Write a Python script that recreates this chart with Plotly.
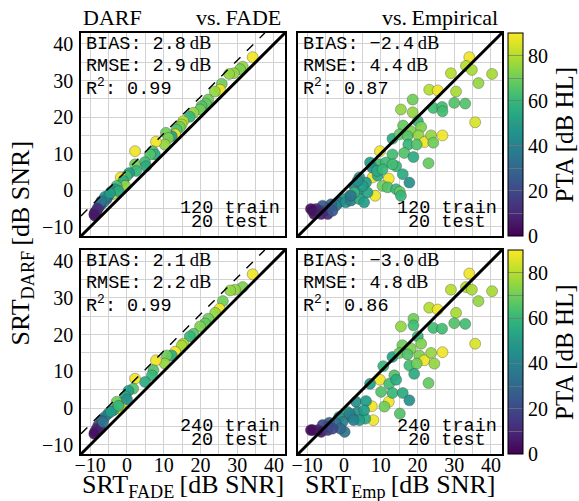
import plotly.graph_objects as go

# ---------------- data ----------------
AX_RANGE = [-12.5, 43.0]
PTA_RANGE = [0, 90]
TICKS = [-10, 0, 10, 20, 30, 40]
TICK_LABELS = ["\u221210", "0", "10", "20", "30", "40"]
CB_TICKS = [0, 10, 20, 30, 40, 50, 60, 70, 80, 90]
CB_LABELS = ["0", "", "20", "", "40", "", "60", "", "80", ""]
DASH_OFFSET = [5.5, 5.5]  # dashed reference line offset (left panels)

# top-left: DARF vs FADE, 120 train
fade120_x = [34.2, 31.5, 30.8, 29.1, 27.8, 25.8, 25.3, 23.9, 22.1, 21.5, 20.3, 19.9, 18.1, 17.1, 15.3,
             14.9, 14.4, 13.5, 13.1, 12.2, 10.6, 11.3, 10.3, 7.9, 7.0, 7.6, 6.3, 2.2, 4.9, 5.2,
             2.2, 2.5, 0.6, -0.1, -1.7, -1.0, -0.5, -2.8, -3.3, -4.2, -3.7, -5.1, -5.5, -2.3, -6.4,
             -7.3, -7.8, -8.2, -8.7, -8.7, -6.0, -4.6, -7.0, -8.0, -8.9]
fade120_y = [36.4, 33.8, 33.1, 32.0, 31.8, 29.1, 27.5, 27.0, 24.8, 23.7, 23.0, 22.1, 21.2, 20.1, 18.9,
             18.0, 17.3, 16.6, 15.3, 14.8, 15.7, 14.3, 12.5, 13.3, 10.7, 9.8, 9.8, 10.7, 7.7, 6.6,
             7.1, 5.3, 4.7, 3.9, 3.5, 2.6, 1.2, 1.2, 0.3, -0.3, -1.0, -1.5, -2.4, -0.2, -3.3,
             -4.2, -4.7, -5.6, -6.0, -7.0, -1.8, -0.8, -3.0, -5.0, -6.6]
fade120_pta = [88, 75, 72, 75, 75, 70, 88, 75, 70, 68, 65, 70, 75, 60, 80,
               78, 70, 65, 88, 50, 70, 72, 75, 88, 65, 55, 65, 88, 62, 55,
               70, 60, 50, 62, 88, 55, 75, 62, 50, 45, 80, 40, 30, 55, 40,
               20, 15, 10, 5, 8, 45, 50, 35, 12, 6]

# top-right: DARF vs Empirical, 120 train
emp120_x = [34.1, 33.2, 34.8, 40.3, 29.1, 36.6, 23.2, 25.5, 30.5, 18.7, 30.0, 33.0, 15.5, 18.7, 24.3,
            26.7, 26.8, 35.7, 20.1, 16.1, 18.2, 21.0, 13.2, 15.1, 17.3, 20.3, 21.9, 23.7, 26.8, 24.3,
            17.5, 19.8, 9.8, 13.2, 16.4, 18.9, 23.0, 7.1, 9.6, 11.4, 14.2, 12.2, 7.8, 4.2, 6.0,
            9.2, 16.0, 17.8, 10.5, 11.9, 14.2, 15.2, 15.5, 8.5, 6.4, 3.7, 2.8, 1.5, -0.4, -1.3,
            -2.2, -3.5, -4.4, -5.3, -5.8, -6.7, -7.6, -8.5, -9.0, -8.1, -6.2, -4.4, -3.1, 0.5, 1.9,
            4.2, 5.5, 2.8, 5.1, 3.7, 7.7, 9.0, 13.2, 10.5, 1.9]
emp120_y = [36.4, 34.0, 32.9, 31.8, 32.0, 29.3, 27.5, 27.3, 27.0, 24.8, 23.9, 23.7, 22.1, 21.3, 22.5,
            22.8, 21.6, 18.6, 18.9, 17.7, 16.2, 17.3, 14.1, 15.3, 14.8, 15.0, 13.2, 15.0, 15.0, 13.0,
            12.5, 12.5, 10.7, 9.8, 10.2, 9.1, 7.4, 7.6, 7.1, 7.6, 6.6, 3.2, 3.5, 3.5, 2.1,
            4.0, 4.4, 2.1, 1.2, 0.8, 0.3, -0.4, -1.5, -1.5, -0.6, -0.6, 1.2, -1.5, -2.4, -3.3,
            -4.2, -3.8, -5.1, -5.6, -4.2, -5.6, -5.1, -5.6, -5.1, -6.5, -6.5, -6.5, -5.6, -3.3, -2.8,
            -2.4, -3.3, -0.6, 1.2, 2.6, 6.2, 5.3, 7.1, 5.7, -1.5]
emp120_pta = [88, 80, 78, 78, 80, 75, 80, 88, 78, 70, 65, 65, 75, 75, 62,
              62, 62, 85, 60, 68, 72, 72, 55, 68, 65, 75, 88, 75, 88, 70,
              60, 65, 88, 62, 65, 55, 68, 50, 62, 62, 60, 88, 88, 45, 50,
              55, 55, 45, 70, 65, 60, 68, 60, 88, 52, 45, 40, 55, 50, 35,
              40, 30, 25, 20, 25, 15, 10, 5, 3, 5, 8, 10, 25, 45, 40,
              55, 50, 60, 50, 45, 45, 55, 62, 60, 35]

# bottom-left: DARF vs FADE, 240 train
fade240_x = [34.2, 31.5, 29.4, 28.1, 26.1, 25.2, 24.0, 22.1, 21.3, 19.9, 18.1, 17.1, 15.3, 14.9, 13.1,
             12.2, 10.8, 10.3, 7.9, 7.2, 6.8, 4.9, 2.2, 1.7, 0.4, -0.5, -1.4, -2.8, -1.9, -3.7,
             -5.1, -6.0, -6.9, -7.8, -8.2, -8.7, -7.3, -4.4, -2.3, 0.0, -6.5, -8.9]
fade240_y = [36.4, 32.9, 32.2, 32.0, 29.1, 27.0, 25.9, 24.3, 23.0, 22.2, 20.2, 19.5, 17.5, 17.0, 15.3,
             14.3, 14.3, 12.1, 13.0, 10.3, 8.9, 7.1, 8.0, 5.3, 4.7, 3.2, 1.2, 1.7, -0.2, -0.6,
             -1.5, -2.4, -3.3, -4.7, -5.6, -6.5, -5.6, -1.0, 0.6, 2.4, -3.8, -7.0]
fade240_pta = [88, 72, 75, 75, 70, 88, 75, 70, 68, 72, 65, 60, 80, 78, 88,
               55, 70, 75, 88, 65, 60, 55, 88, 65, 50, 55, 88, 70, 85, 55,
               45, 40, 30, 20, 10, 5, 8, 50, 60, 45, 35, 4]

# bottom-right: DARF vs Empirical, 240 train
emp240_x = [34.1, 33.2, 34.8, 40.3, 29.1, 36.6, 23.2, 25.5, 30.5, 18.9, 30.0, 33.0, 15.5, 18.9, 24.3,
            26.7, 35.7, 20.1, 15.9, 18.2, 21.0, 13.2, 15.1, 17.3, 20.5, 21.9, 23.7, 26.8, 24.6, 17.8,
            19.8, 10.7, 9.8, 13.7, 19.1, 23.0, 7.1, 12.3, 14.2, 10.1, 12.2, 7.6, 13.2, 16.0, 17.8,
            3.3, 6.0, 11.0, 15.2, 8.0, 5.8, 1.0, 3.7, 1.9, -1.3, 4.2, -0.4, -2.2, -4.0, -4.4,
            -5.8, 0.2, -1.0, -7.1, -8.5, -9.0, -6.2, -4.4, -3.1, 5.5, 1.5, 2.6]
emp240_y = [36.6, 32.9, 32.2, 31.8, 32.2, 29.1, 27.3, 26.8, 25.9, 24.3, 23.1, 22.9, 22.2, 22.5, 21.8,
            21.6, 17.5, 19.5, 17.1, 16.2, 17.5, 13.9, 15.0, 14.6, 14.3, 13.0, 15.0, 15.2, 12.1, 11.6,
            12.1, 11.4, 7.7, 8.9, 9.3, 6.8, 6.6, 6.6, 7.7, 4.4, 1.7, 0.5, 4.1, 4.1, 2.1,
            1.7, 1.9, 0.4, -1.5, -3.3, -2.9, -1.1, -1.1, -2.4, -2.4, -3.3, -3.8, -4.2, -4.0, -5.1,
            -4.6, -6.5, -5.6, -6.0, -6.0, -6.0, -6.5, -6.0, -5.6, -0.6, -1.5, -3.3]
emp240_pta = [88, 80, 78, 78, 80, 75, 80, 88, 78, 70, 65, 62, 75, 62, 62,
              62, 85, 60, 70, 72, 72, 52, 68, 65, 72, 88, 75, 88, 75, 62,
              70, 60, 88, 65, 55, 68, 50, 62, 55, 65, 88, 88, 60, 55, 45,
              45, 50, 70, 65, 88, 55, 60, 45, 45, 45, 50, 40, 35, 30, 25,
              20, 35, 30, 10, 5, 3, 5, 15, 20, 50, 40, 40]

panel_x = [fade120_x, emp120_x, fade240_x, emp240_x]
panel_y = [fade120_y, emp120_y, fade240_y, emp240_y]
panel_c = [fade120_pta, emp120_pta, fade240_pta, emp240_pta]
bias_txt = ["2.8", "\u22122.4", "2.1", "\u22123.0"]
rmse_txt = ["2.9", "4.4", "2.2", "4.8"]
r2_txt = ["0.99", "0.87", "0.99", "0.86"]
train_txt = ["120", "120", "240", "240"]
test_txt = ["20", "20", "20", "20"]

# ---------------- layout geometry ----------------
W, H = 579, 501
ML, MR, MT, MB = 81, 77, 33, 47
PW = W - ML - MR
PH = H - MT - MB
SERIF = "Liberation Serif"
MONO = "Liberation Mono"

xdom = [[0, 204 / PW], [(298 - ML) / PW, 1]]
ydom = [[(H - MB - 236) / PH, 1], [0, 204 / PH]]

fig = go.Figure()

for i in range(4):
    r, c = divmod(i, 2)
    n = "" if i == 0 else str(i + 1)
    fig.add_trace(go.Scatter(
        x=panel_x[i], y=panel_y[i], mode="markers",
        xaxis="x" + n, yaxis="y" + n, showlegend=False,
        marker=dict(size=11, color=panel_c[i], coloraxis="coloraxis" if r == 0 else "coloraxis2",
                    opacity=0.92, line=dict(width=0.7, color="rgba(60,60,60,0.55)")),
    ))
    # identity line
    fig.add_trace(go.Scatter(
        x=AX_RANGE, y=AX_RANGE, mode="lines", xaxis="x" + n, yaxis="y" + n,
        showlegend=False, line=dict(color="black", width=3), hoverinfo="skip"))
    if c == 0:
        off = DASH_OFFSET[r]
        fig.add_trace(go.Scatter(
            x=[AX_RANGE[0], AX_RANGE[1] - off], y=[AX_RANGE[0] + off, AX_RANGE[1]],
            mode="lines", xaxis="x" + n, yaxis="y" + n, showlegend=False,
            line=dict(color="black", width=1.4, dash="dash"), hoverinfo="skip"))

    axcommon = dict(range=AX_RANGE, showgrid=True, gridcolor="#d2d2d2", gridwidth=1,
                    tickmode="array", tickvals=TICKS, ticktext=TICK_LABELS,
                    minor=dict(dtick=5, tick0=0, showgrid=True, gridcolor="#d2d2d2", gridwidth=1),
                    showline=True, linecolor="black", linewidth=1.5, mirror=True,
                    zeroline=False, ticks="", ticklen=0,
                    tickfont=dict(family=SERIF, size=20, color="black"))
    xa = dict(axcommon, domain=xdom[c], anchor="y" + n, showticklabels=(r == 1), ticklabelstandoff=-8)
    ya = dict(axcommon, domain=ydom[r], anchor="x" + n, showticklabels=(c == 0), ticklabelstandoff=2)
    fig.layout["xaxis" + n] = xa
    fig.layout["yaxis" + n] = ya

    dbspan = '<span style="font-family:%s">\u2009dB</span>' % SERIF
    stat_lines = ["BIAS: %s%s" % (bias_txt[i], dbspan),
                  "RMSE: %s%s" % (rmse_txt[i], dbspan),
                  "R<sup>2</sup>: %s" % r2_txt[i]]
    for txt, dy in zip(stat_lines, [-10.5, -32.5, -54.5]):
        fig.add_annotation(
            xref="x%s domain" % n, yref="y%s domain" % n, x=0.0, y=1.0, xshift=3, yshift=dy,
            xanchor="left", yanchor="middle", align="left", showarrow=False, text=txt,
            font=dict(family=MONO, size=18.5, color="black"))
    for txt, dy in zip(["%s train" % train_txt[i], "%s test" % test_txt[i]], [28, 13.5]):
        fig.add_annotation(
            xref="x%s domain" % n, yref="y%s domain" % n, x=1.0, y=0.0, xshift=-55, yshift=dy,
            xanchor="center", yanchor="middle", showarrow=False, text=txt,
            font=dict(family=MONO, size=18.5, color="black"))

for k, ca in enumerate(["coloraxis", "coloraxis2"]):
    fig.layout[ca] = dict(
        colorscale="Viridis", cmin=PTA_RANGE[0], cmax=PTA_RANGE[1],
        colorbar=dict(x=(508 - ML) / PW, xanchor="left", xref="paper", xpad=0, ypad=0,
                      thickness=15, y=ydom[k][0], yanchor="bottom",
                      len=ydom[k][1] - ydom[k][0], lenmode="fraction",
                      outlinecolor="black", outlinewidth=1,
                      tickmode="array", tickvals=CB_TICKS, ticktext=CB_LABELS,
                      ticks="inside", ticklen=15, tickcolor="rgba(120,120,120,0.7)", tickwidth=1,
                      tickfont=dict(family=SERIF, size=20, color="black")))
    fig.add_annotation(xref="paper", yref="paper", x=(564 - ML) / PW, y=sum(ydom[k]) / 2,
                       xanchor="center", yanchor="middle", textangle=-90, showarrow=False,
                       text="PTA\u2009[dB HL]", font=dict(family=SERIF, size=25, color="black"))

# titles
fig.add_annotation(xref="paper", yref="paper", x=0.0, y=1.0, xshift=0, yshift=1, xanchor="left", yanchor="bottom",
                   text="DARF", showarrow=False, font=dict(family=SERIF, size=22, color="black"))
fig.add_annotation(xref="paper", yref="paper", x=xdom[0][1], y=1.0, xshift=-2, yshift=1, xanchor="right", yanchor="bottom",
                   text="vs.\u2009FADE", showarrow=False, font=dict(family=SERIF, size=22, color="black"))
fig.add_annotation(xref="paper", yref="paper", x=xdom[1][1], y=1.0, xshift=-2, yshift=1, xanchor="right", yanchor="bottom",
                   text="vs.\u2009Empirical", showarrow=False, font=dict(family=SERIF, size=22, color="black"))
# axis titles
fig.add_annotation(xref="paper", yref="paper", x=sum(xdom[0]) / 2, y=0, yshift=-14, xanchor="center", yanchor="top",
                   text="SRT<sub>FADE</sub>\u2009[dB SNR]", showarrow=False, font=dict(family=SERIF, size=26, color="black"))
fig.add_annotation(xref="paper", yref="paper", x=sum(xdom[1]) / 2, y=0, yshift=-14, xanchor="center", yanchor="top",
                   text="SRT<sub>Emp</sub>\u2009[dB SNR]", showarrow=False, font=dict(family=SERIF, size=26, color="black"))
fig.add_annotation(xref="paper", yref="paper", x=(21 - ML) / PW, y=0.5, xanchor="center", yanchor="middle", textangle=-90,
                   text="SRT<sub>DARF</sub>\u2009[dB SNR]", showarrow=False, font=dict(family=SERIF, size=26, color="black"))

fig.update_layout(width=W, height=H, margin=dict(l=ML, r=MR, t=MT, b=MB, autoexpand=False),
                  plot_bgcolor="white", paper_bgcolor="white")

fig.write_html("out.html", config={"displayModeBar": False},
               post_script="document.body.style.margin='0';")
